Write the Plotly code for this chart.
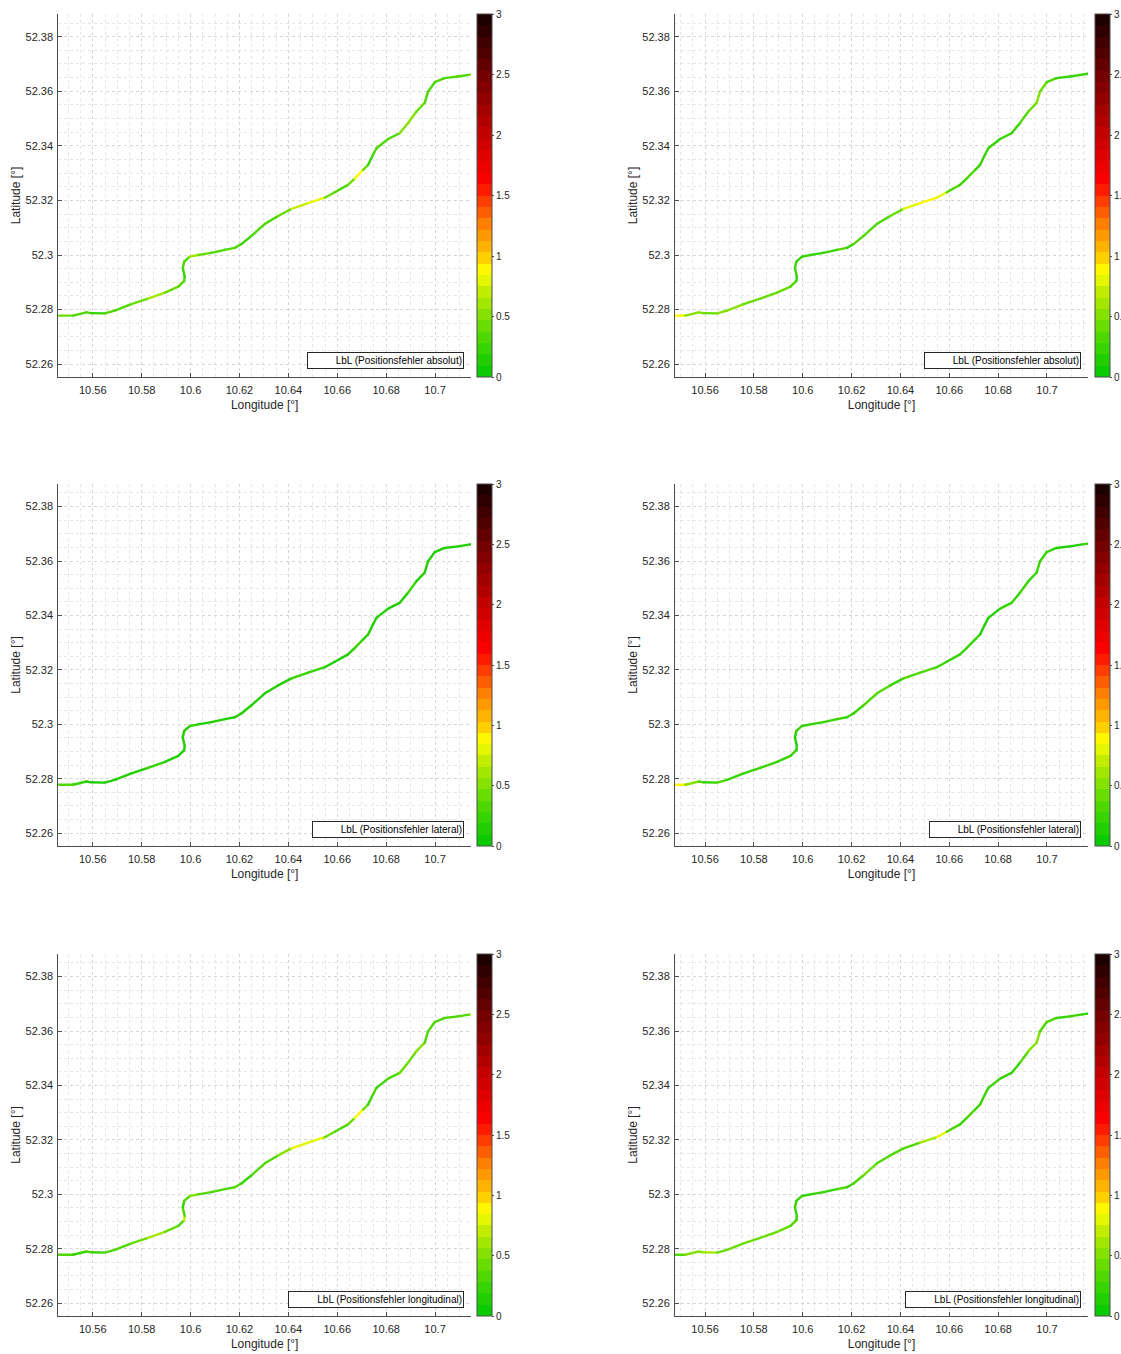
import plotly.graph_objects as go
from plotly.colors import sample_colorscale

# ---------------------------------------------------------------------------
# Track (WGS84) of the drive
# ---------------------------------------------------------------------------
TRACK_LON = [
    10.5458, 10.5519, 10.5574, 10.5594, 10.5649, 10.5690, 10.5758, 10.5826,
    10.5895, 10.5950, 10.5974, 10.5976, 10.5968, 10.5974, 10.5997, 10.6031,
    10.6085, 10.6140, 10.6181, 10.6208, 10.6249, 10.6304, 10.6358, 10.6413,
    10.6481, 10.6549, 10.6590, 10.6644, 10.6672, 10.6706, 10.6726, 10.6746,
    10.6760, 10.6808, 10.6855, 10.6889, 10.6923, 10.6958, 10.6971, 10.6999,
    10.7039, 10.7094, 10.7145, 10.7168,
]
TRACK_LAT = [
    52.2778, 52.2778, 52.2790, 52.2787, 52.2786, 52.2796, 52.2820, 52.2840,
    52.2862, 52.2884, 52.2905, 52.2921, 52.2952, 52.2976, 52.2994, 52.3000,
    52.3008, 52.3019, 52.3026, 52.3040, 52.3070, 52.3114, 52.3143, 52.3169,
    52.3190, 52.3210, 52.3230, 52.3257, 52.3281, 52.3312, 52.3330, 52.3367,
    52.3391, 52.3425, 52.3446, 52.3483, 52.3525, 52.3558, 52.3598, 52.3633,
    52.3648, 52.3654, 52.3661, 52.3664,
]

# Position errors [m] along the track (one value per track point)
ERR_ABS_A = [
    0.40, 0.30, 0.30, 0.25, 0.30, 0.30, 0.45, 0.60, 0.40, 0.30, 0.35, 0.25,
    0.30, 0.35, 0.60, 0.40, 0.30, 0.35, 0.30, 0.25, 0.35, 0.30, 0.40, 0.70,
    0.78, 0.45, 0.30, 0.45, 0.85, 0.40, 0.25, 0.30, 0.30, 0.35, 0.55, 0.50,
    0.45, 0.35, 0.30, 0.35, 0.30, 0.30, 0.60, 0.30,
]
ERR_ABS_B = [
    0.88, 0.55, 0.50, 0.45, 0.55, 0.50, 0.45, 0.45, 0.45, 0.35, 0.25, 0.20,
    0.20, 0.20, 0.25, 0.25, 0.25, 0.30, 0.25, 0.30, 0.35, 0.30, 0.40, 0.80,
    0.85, 0.75, 0.30, 0.25, 0.30, 0.25, 0.20, 0.20, 0.20, 0.25, 0.25, 0.30,
    0.40, 0.50, 0.40, 0.30, 0.25, 0.25, 0.25, 0.25,
]
ERR_LAT_A = [
    0.35, 0.20, 0.18, 0.15, 0.18, 0.15, 0.18, 0.20, 0.18, 0.15, 0.15, 0.15,
    0.15, 0.18, 0.20, 0.18, 0.15, 0.18, 0.15, 0.15, 0.18, 0.15, 0.18, 0.20,
    0.20, 0.18, 0.15, 0.18, 0.20, 0.18, 0.15, 0.15, 0.15, 0.18, 0.18, 0.20,
    0.18, 0.15, 0.15, 0.18, 0.15, 0.15, 0.18, 0.15,
]
ERR_LAT_B = [
    0.90, 0.50, 0.30, 0.25, 0.30, 0.20, 0.20, 0.22, 0.20, 0.20, 0.18, 0.18,
    0.18, 0.20, 0.22, 0.20, 0.20, 0.20, 0.20, 0.20, 0.30, 0.30, 0.22, 0.35,
    0.35, 0.25, 0.20, 0.22, 0.20, 0.20, 0.18, 0.18, 0.18, 0.20, 0.20, 0.22,
    0.22, 0.20, 0.20, 0.20, 0.18, 0.18, 0.20, 0.20,
]
ERR_LON_A = [
    0.35, 0.25, 0.30, 0.25, 0.30, 0.30, 0.45, 0.60, 0.40, 0.30, 0.70, 0.30,
    0.25, 0.35, 0.55, 0.35, 0.30, 0.35, 0.30, 0.25, 0.35, 0.30, 0.50, 0.80,
    0.80, 0.40, 0.30, 0.45, 0.85, 0.40, 0.25, 0.30, 0.25, 0.35, 0.40, 0.45,
    0.50, 0.35, 0.30, 0.35, 0.30, 0.30, 0.70, 0.30,
]
ERR_LON_B = [
    0.35, 0.50, 0.55, 0.60, 0.45, 0.45, 0.45, 0.45, 0.45, 0.30, 0.25, 0.20,
    0.20, 0.20, 0.25, 0.25, 0.25, 0.30, 0.25, 0.30, 0.40, 0.30, 0.30, 0.35,
    0.60, 0.80, 0.30, 0.25, 0.30, 0.25, 0.20, 0.20, 0.20, 0.25, 0.25, 0.30,
    0.50, 0.50, 0.35, 0.30, 0.25, 0.25, 0.25, 0.25,
]

PANEL_ERRORS = [ERR_ABS_A, ERR_ABS_B, ERR_LAT_A, ERR_LAT_B, ERR_LON_A, ERR_LON_B]
PANEL_NAMES = [
    "LbL (Positionsfehler absolut)", "LbL (Positionsfehler absolut)",
    "LbL (Positionsfehler lateral)", "LbL (Positionsfehler lateral)",
    "LbL (Positionsfehler longitudinal)", "LbL (Positionsfehler longitudinal)",
]

# Axis ticks
X_TICKS = [10.56, 10.58, 10.60, 10.62, 10.64, 10.66, 10.68, 10.70]
X_TICK_TEXT = ["10.56", "10.58", "10.6", "10.62", "10.64", "10.66", "10.68", "10.7"]
Y_TICKS = [52.26, 52.28, 52.30, 52.32, 52.34, 52.36, 52.38]
Y_TICK_TEXT = ["52.26", "52.28", "52.3", "52.32", "52.34", "52.36", "52.38"]
CB_TICKS = [0, 0.5, 1, 1.5, 2, 2.5, 3]
CB_TICK_TEXT = ["0", "0.5", "1", "1.5", "2", "2.5", "3"]

# Axis limits per column
X_RANGE_LEFT = [10.5459, 10.7147]
X_RANGE_RIGHT = [10.5477, 10.7168]
Y_RANGE = [52.2553, 52.3883]

# ---------------------------------------------------------------------------
# Green -> yellow -> red -> black colour map, quantised into discrete levels
# ---------------------------------------------------------------------------
CMIN, CMAX = 0.0, 3.0
N_LEVELS = 32
ANCHORS = [
    [0.000, "rgb(0,200,0)"],
    [0.100, "rgb(70,215,0)"],
    [0.170, "rgb(130,225,0)"],
    [0.250, "rgb(210,240,0)"],
    [0.290, "rgb(255,255,0)"],
    [0.335, "rgb(255,200,0)"],
    [0.430, "rgb(255,120,0)"],
    [0.540, "rgb(255,0,0)"],
    [0.670, "rgb(195,0,0)"],
    [0.830, "rgb(115,0,0)"],
    [1.000, "rgb(20,0,0)"],
]
LEVEL_COLORS = sample_colorscale(ANCHORS, [(i + 0.5) / N_LEVELS for i in range(N_LEVELS)])
DISCRETE_SCALE = []
for i, c in enumerate(LEVEL_COLORS):
    DISCRETE_SCALE.append([i / N_LEVELS, c])
    DISCRETE_SCALE.append([(i + 1) / N_LEVELS, c])


def level_color(v):
    idx = int((v - CMIN) / (CMAX - CMIN) * N_LEVELS)
    return LEVEL_COLORS[max(0, min(N_LEVELS - 1, idx))]


# ---------------------------------------------------------------------------
# Layout geometry (pixels, converted to paper fractions)
# ---------------------------------------------------------------------------
W, H = 1121, 1354
COL_PX = [(58.3, 471.0), (675.0, 1088.0)]
ROW_PX = [(14.0, 377.0), (484.0, 846.0), (954.0, 1316.0)]
CB_LEFT_PX = [477.0, 1095.0]
LEG_RIGHT_PX = [463.5, 1080.5]
LEG_BOTTOM_PX = [369.0, 838.0, 1308.0]
LEG_WIDTH_PX = [157, 157, 152, 152, 176, 176]
LEG_HEIGHT_PX = 17

FONT = "Liberation Sans, Arial, Helvetica, sans-serif"
AX_COLOR = "#262626"
LINE_COLOR = "#4d4d4d"


def px_x(p):
    return p / W


def px_y(p):
    return 1 - p / H


fig = go.Figure()
annotations, shapes = [], []

for k, err in enumerate(PANEL_ERRORS):
    row, col = divmod(k, 2)
    suffix = "" if k == 0 else str(k + 1)
    xa, ya = "x" + suffix, "y" + suffix

    # coloured track segments, grouped by colour level
    groups = {}
    for i in range(len(TRACK_LON) - 1):
        c = level_color(err[i])
        gx, gy = groups.setdefault(c, ([], []))
        gx += [TRACK_LON[i], TRACK_LON[i + 1], None]
        gy += [TRACK_LAT[i], TRACK_LAT[i + 1], None]
    for c, (gx, gy) in groups.items():
        fig.add_trace(go.Scatter(
            x=gx, y=gy, mode="lines", line=dict(color=c, width=2.4),
            xaxis=xa, yaxis=ya, showlegend=False, hoverinfo="skip",
        ))

    # measurement points carrying the colour scale
    fig.add_trace(go.Scatter(
        x=TRACK_LON, y=TRACK_LAT, mode="markers",
        marker=dict(
            color=err, colorscale=DISCRETE_SCALE, cmin=CMIN, cmax=CMAX, size=2.4,
            showscale=True,
            colorbar=dict(
                x=px_x(CB_LEFT_PX[col]), xanchor="left", xpad=0,
                y=px_y((ROW_PX[row][0] + ROW_PX[row][1]) / 2), yanchor="middle", ypad=0,
                len=ROW_PX[row][1] - ROW_PX[row][0], lenmode="pixels",
                thickness=15, thicknessmode="pixels",
                outlinecolor=LINE_COLOR, outlinewidth=1,
                tickmode="array", tickvals=CB_TICKS, ticktext=CB_TICK_TEXT,
                ticks="outside", ticklen=2, tickcolor=LINE_COLOR,
                tickfont=dict(family=FONT, size=10, color=AX_COLOR),
            ),
        ),
        xaxis=xa, yaxis=ya, showlegend=False, name=PANEL_NAMES[k],
    ))

    axis_common = dict(
        showline=True, linecolor=LINE_COLOR, linewidth=1, mirror=False,
        ticks="inside", ticklen=4, tickcolor=LINE_COLOR,
        tickfont=dict(family=FONT, size=11, color=AX_COLOR),
        showgrid=True, gridcolor="#d6d6d6", gridwidth=1, griddash="dot",
        minor=dict(dtick=0.005, showgrid=True, gridcolor="#e6e6e6",
                   griddash="dot", ticks=""),
        zeroline=False,
    )
    fig.layout["xaxis" + suffix] = dict(
        axis_common, domain=[px_x(COL_PX[col][0]), px_x(COL_PX[col][1])], anchor=ya,
        range=X_RANGE_LEFT if col == 0 else X_RANGE_RIGHT,
        tickmode="array", tickvals=X_TICKS, ticktext=X_TICK_TEXT,
        ticklabelstandoff=3,
        title=dict(text="Longitude [°]", standoff=5,
                   font=dict(family=FONT, size=12, color=AX_COLOR)),
    )
    fig.layout["yaxis" + suffix] = dict(
        axis_common, domain=[px_y(ROW_PX[row][1]), px_y(ROW_PX[row][0])], anchor=xa,
        range=Y_RANGE,
        tickmode="array", tickvals=Y_TICKS, ticktext=Y_TICK_TEXT,
        ticklabelstandoff=2,
        title=dict(text="Latitude [°]", standoff=2,
                   font=dict(family=FONT, size=12, color=AX_COLOR)),
    )

    # legend box: bordered label with a red point symbol on its left
    right = LEG_RIGHT_PX[col]
    bottom = LEG_BOTTOM_PX[row]
    width = LEG_WIDTH_PX[k]
    annotations.append(dict(
        xref="paper", yref="paper", x=px_x(right), y=px_y(bottom),
        xanchor="right", yanchor="bottom",
        text=PANEL_NAMES[k], showarrow=False, align="right",
        width=width - 4, height=LEG_HEIGHT_PX - 4, borderpad=1,
        bordercolor=AX_COLOR, borderwidth=1, bgcolor="white",
        font=dict(family=FONT, size=10, color="black"),
    ))
    dot_x = right - width + 15.5
    dot_y = bottom - LEG_HEIGHT_PX / 2
    shapes.append(dict(
        type="circle", xref="paper", yref="paper",
        x0=px_x(dot_x - 1.5), x1=px_x(dot_x + 1.5),
        y0=px_y(dot_y + 1.5), y1=px_y(dot_y - 1.5),
        fillcolor="red", line=dict(color="red", width=0.5),
    ))

fig.update_layout(
    width=W, height=H,
    margin=dict(l=0, r=0, t=0, b=0, autoexpand=False),
    paper_bgcolor="white", plot_bgcolor="white",
    font=dict(family=FONT, color=AX_COLOR),
    showlegend=False,
    annotations=annotations, shapes=shapes,
)

fig.write_html("out.html")
